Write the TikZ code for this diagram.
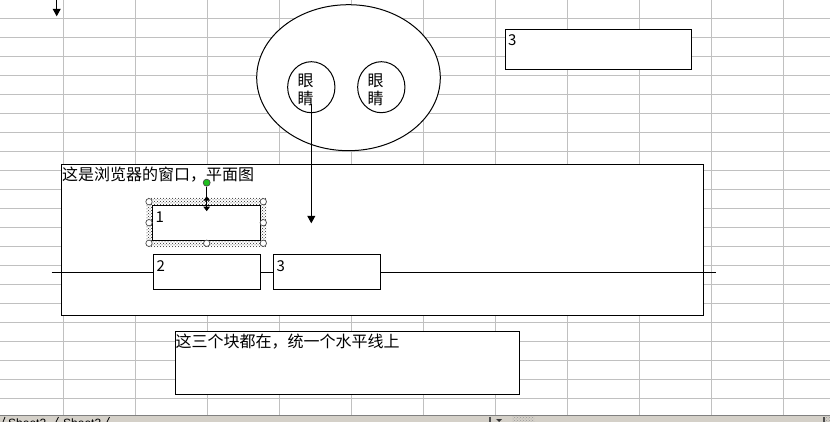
\documentclass[tikz,border=0pt]{standalone}
\usepackage{fontspec}
\setmainfont{Liberation Sans}
\newfontfamily\cjk{Noto Sans CJK SC}
\usetikzlibrary{shapes.geometric,arrows.meta,patterns}
\definecolor{gridc}{HTML}{C0C0C0}
\definecolor{barbg}{HTML}{D4D0C8}
\definecolor{hgreen}{HTML}{20C020}
\tikzset{
  gridline/.style={draw=gridc, line width=1pt},
  shapeline/.style={draw=black, line width=1pt, fill=white},
  boxnode/.style={shapeline, rectangle, inner sep=0pt, anchor=north west},
  txt/.style={inner sep=0pt, anchor=base west, font=\cjk\fontsize{16}{18}\selectfont},
  dig/.style={inner sep=0pt, anchor=base west, font=\cjk\fontsize{15}{18}\selectfont},
  arr/.style={draw=black, line width=1pt, -{Triangle[width=8pt,length=7.5pt]}},
  handle/.style={circle, draw=black!70, fill=white, line width=0.7pt, inner sep=0pt, minimum size=6.4pt},
}
\begin{document}
\begin{tikzpicture}[x=1pt,y=-1pt]
\useasboundingbox (0,0) rectangle (830,422);
% spreadsheet grid
\begin{scope}
\clip (0,0) rectangle (830,416);
\foreach \x in {63,135,...,783} \draw[gridline] (\x,0) -- (\x,416);
\foreach \k in {0,...,21} \draw[gridline] (0,18.33+19*\k) -- (830,18.33+19*\k);
\end{scope}

% top-left arrow
\coordinate (tla) at (56.7,-5);
\coordinate (tlb) at (56.7,16.3);
\draw[arr] (tla) -- (tlb);

% face
\node[shapeline, ellipse, minimum width=183.6pt, minimum height=146pt, inner sep=0pt] (face) at (348.5,77.7) {};
\node[shapeline, ellipse, minimum width=47.3pt, minimum height=51pt, inner sep=0pt] (eyeL) at (311.3,87.2) {};
\node[shapeline, ellipse, minimum width=47.3pt, minimum height=51pt, inner sep=0pt] (eyeR) at (381.3,87.2) {};
\node[txt] (eL1) at (297.5,86.5) {眼};
\node[txt] (eL2) at (297.5,104.5) {睛};
\node[txt] (eR1) at (367.5,86.5) {眼};
\node[txt] (eR2) at (367.5,104.5) {睛};

% top-right box
\node[boxnode, minimum width=186pt, minimum height=40pt] (btop) at (505.3,29.3) {};
\node[dig] (btopt) at (507.8,46) {3};

% browser window
\node[boxnode, minimum width=642.6pt, minimum height=151pt] (win) at (60.7,164.3) {};
\node[txt] (wint) at (62,180.5) {这是浏览器的窗口，平面图};

% horizontal line
\coordinate (hl) at (51.7,272.3);
\coordinate (hr) at (716,272.3);
\draw[line width=1pt] (hl) -- (hr);

% selection frame around box 1
\fill[pattern=crosshatch dots, pattern color=black!85, even odd rule]
  (146.7,197.7) rectangle (266.7,247.3) (152.3,205) rectangle (259.7,240.3);
\node[boxnode, minimum width=107.4pt, minimum height=35.3pt] (b1) at (152.3,205) {};
\node[dig] (b1t) at (155.5,222.5) {1};

% boxes 2 and 3
\node[boxnode, minimum width=107pt, minimum height=34.7pt] (b2) at (153.3,254.3) {};
\node[dig] (b2t) at (156.3,271) {2};
\node[boxnode, minimum width=107pt, minimum height=34.7pt] (b3) at (273.3,254.3) {};
\node[dig] (b3t) at (276.3,271) {3};

% handles
\node[handle] (h1) at (149,201.7) {};
\node[handle] (h2) at (263.3,201.7) {};
\node[handle] (h3) at (149,222.7) {};
\node[handle] (h4) at (263.3,222.7) {};
\node[handle] (h5) at (149,243.3) {};
\node[handle] (h6) at (206.7,243.3) {};
\node[handle] (h7) at (263.3,243.3) {};
\node[circle, draw=black!70, fill=hgreen, line width=0.7pt, inner sep=0pt, minimum size=7pt] (rot) at (206.7,182.7) {};
\coordinate (rotb) at (206.7,198);
\draw[line width=1pt] (rot) -- (rotb);
\coordinate (ca) at (206.7,196.2);
\coordinate (cb) at (206.7,211.2);
\draw[line width=1.2pt, {Triangle[width=6.5pt,length=4.5pt]}-{Triangle[width=6.5pt,length=4.5pt]}] (ca) -- (cb);

% arrow from eye
\coordinate (ea) at (311.3,104.3);
\coordinate (eb) at (311.3,223.3);
\draw[arr] (ea) -- (eb);

% bottom note box
\node[boxnode, minimum width=344.6pt, minimum height=62.7pt] (note) at (174.7,331.3) {};
\node[txt] (notet) at (175.5,347.5) {这三个块都在，统一个水平线上};

% sheet tab bar
\fill[barbg] (0,416) rectangle (830,422);
\draw[draw=black!50, line width=1pt] (0,415.7) -- (830,415.7);
\begin{scope}
\clip (0,416) rectangle (830,422);
\node[inner sep=0pt, anchor=base west, font=\fontsize{12}{14}\selectfont] (s2) at (8,427.5) {Sheet2};
\node[inner sep=0pt, anchor=base west, font=\fontsize{12}{14}\selectfont] (s3) at (63,427.5) {Sheet3};
\draw[line width=0.8pt] (3,422) -- (5,417);
\draw[line width=0.8pt] (56,422) -- (58.5,417);
\draw[line width=0.8pt] (107,422) -- (109.5,417);
\fill[black!70] (489,416.5) rectangle (491,422);
\fill[black!80] (496,419) -- (502,419) -- (499,422) -- cycle;
\fill[pattern=crosshatch dots, pattern color=black!40] (512,416.5) rectangle (534,422);
\fill[black!70] (823,416.5) rectangle (825,422);
\fill[pattern=crosshatch dots, pattern color=black!40] (825,416.5) rectangle (830,422);
\end{scope}
\end{tikzpicture}
\end{document}
